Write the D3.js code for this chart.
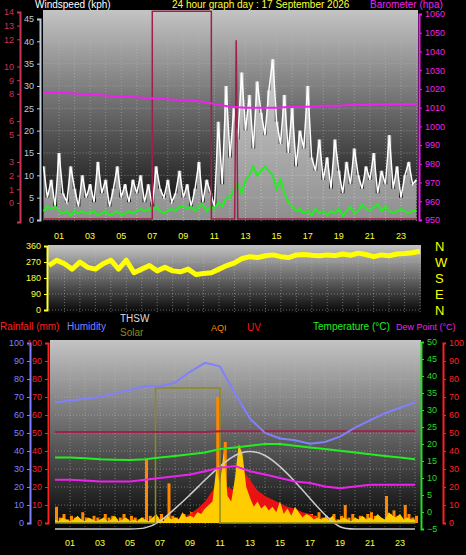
<!DOCTYPE html>
<html><head><meta charset="utf-8">
<script src="https://cdn.jsdelivr.net/npm/d3@7"></script>
<style>body{margin:0;background:#000}svg{display:block;font-family:"Liberation Sans",Arial,sans-serif}</style>
</head><body><svg width="466" height="555"></svg>
<script>
// ---- data ----
const hourTicks = [1,3,5,7,9,11,13,15,17,19,21,23];
const gust = [12,5,9,3,15,6,4,12,7,3,10,5, 8,4,13,6,9,3,7,12,5,8,4,9, 6,10,4,8,3,12,7,5,9,4,6,11,
  5,8,3,7,13,4,9,6,3,22,8,30, 14,25,18,33,20,28,16,31,24,19,29,36, 22,17,28,15,25,12,20,16,30,14,11,18,
  9,14,7,18,11,6,13,8,16,10,7,12, 9,15,6,11,8,19,7,12,5,10,13,8, 9];
const avgWind = [2,3,2.5,3,2,1.5,2,1,2,1.5,2,1.5, 1.5,2,1,1.5,2,1,1.5,2,1,1.5,2,1.5, 2,2.5,2,2.5,2,3,2,1.5,2,2.5,2,3,
  3,2.5,3,2,3,3.5,2,3,2.5,4,3,5, 5,7,8,6,9,10,12,10,11,12,11,10, 7,9,6,4,3,2,2.5,1.5,2,1,2.5,1.5,
  2,1,2,1.5,2.5,1,2,3,1.5,2,3.5,2.5, 2,3,3.5,2,3,2,1.5,2,2.5,2,1.5,2, 2];
const baro = [1018,1018,1017.5,1017,1016.5,1016,1015.5,1015,1014.5,1014,1013.5,1012,1010.5,1010,1010,1010,1010.5,1010.5,1011,1011,1011.5,1011.5,1012,1012,1012];
const rateHours = [0,7,7,10.8,10.8,12.3,12.4,12.5,24];
const rateVals  = [0,0,46.5,46.5,0,0,40,0,0];
const windDir = [250,280,260,230,270,240,230,260,280,230,280,210,230,250,220,240,220,215,230,200,205,210,230,250,
  265,290,300,295,305,310,300,295,310,312,308,305,310,306,315,308,320,312,300,310,305,315,318,322,330];
const humidity = [67,68,69,70,72,74,76,76,78,84,89,87,72,58,50,47,46,44,45,48,53,57,61,64,67];
const temperature = [16,16,15.8,15.5,15.4,15.3,15.5,16,16.5,17,17.5,18.5,19,19.5,20,20,19.5,19,18.5,18,17.5,17,16.5,16,15.5];
const dewPoint = [9.5,9.5,9.3,9,9,9,9.5,10,10.5,11,12,13,13.5,12,11,10,9,8.5,7.5,7,7.5,8,8,8,8];
const thsw = [-5,-5,-5,-5,-5,-5,-5,-3,1,5,9.5,13.5,17,18.2,17,13.5,9,4,-1,-5,-5,-5,-5,-5,-5];
const rainLine = [50.5,50.5,50.5,50.5,50.5,50.5,50.5,50.5,50.5,50.5,50.5,51,51,51,51,51,51,51,51,51,51,51,51,51,51];
const solarHours = [0,6.7,6.7,11,11,24];
const solarVals = [0,0,75,75,0,0];
const uv = [0,0,0,0,0,0,0,0,0,0,0,0,0,0,0,0.1,0.2,0.3,0.5,0.8,1.2,1.8,2.6,2.0,1.8,3.0,2.4,1.8,1.5,1.3,1.1,0.9,0.8,0.6,0.5,0.3,0.1,0,0,0,0,0,0,0,0,0,0,0,0];
const pm = [2,1,3,2,1,2,4,2,1,3,2,1, 2,3,1,2,4,1,2,3,1,2,1,3, 2,1,3,5,2,1,4,2,3,2,6,3,
  4,3,6,5,8,10,12,30,22,40,15,12, 25,44,38,20,14,9,12,8,10,7,9,6, 12,5,8,4,9,6,3,5,4,2,3,2,
  3,2,4,1,2,3,2,1,3,2,4,2, 3,2,5,3,2,6,4,3,5,2,3,2, 2];
const aqi = [9,3,5,2,4,3,2,6,3,2,4,3, 2,5,3,4,2,3,5,2,4,3,2,3, 35,4,3,2,5,3,22,4,3,2,5,3,
  6,5,3,8,4,6,12,70,10,45,8,6, 8,10,6,7,5,9,6,7,5,6,4,5, 6,8,5,4,6,5,4,3,5,4,6,3,
  4,3,5,2,4,10,3,5,2,4,3,5, 6,4,3,2,15,5,7,4,3,10,5,3, 4];

const svg = d3.select('svg');
const quarter = arr => arr.map((v, i) => [i / 4, v]);
const halfh = arr => arr.map((v, i) => [i / 2, v]);
const hourly = arr => arr.map((v, i) => [i, v]);

function panelBg(id, x0, y0, w, h) {
  const g = svg.append('defs').append('linearGradient').attr('id', id).attr('x1', 0).attr('x2', 0).attr('y1', 0).attr('y2', 1);
  g.append('stop').attr('offset', '0%').attr('stop-color', '#c4c4c4');
  g.append('stop').attr('offset', '55%').attr('stop-color', '#5a5a5a');
  g.append('stop').attr('offset', '100%').attr('stop-color', '#050505');
  svg.append('rect').attr('x', x0).attr('y', y0).attr('width', w).attr('height', h).attr('fill', `url(#${id})`);
}
function grid(x, y, yTicks, y0, y1) {
  svg.append('g').selectAll('line').data(hourTicks.concat(hourTicks.map(h => h + 1))).join('line')
    .attr('x1', d => x(d)).attr('x2', d => x(d)).attr('y1', y0).attr('y2', y1)
    .attr('stroke', '#bbb').attr('stroke-dasharray', '1,2').attr('opacity', 0.5);
  svg.append('g').selectAll('line').data(yTicks).join('line')
    .attr('x1', x.range()[0]).attr('x2', x.range()[1]).attr('y1', d => y(d)).attr('y2', d => y(d))
    .attr('stroke', '#bbb').attr('stroke-dasharray', '1,2').attr('opacity', 0.5);
}
function axisG(scale, side, xpos, color, ticks, fmt) {
  const ax = (side === 'left' ? d3.axisLeft(scale) : d3.axisRight(scale)).tickValues(ticks).tickSize(3).tickFormat(fmt || d3.format('d'));
  const g = svg.append('g').attr('transform', `translate(${xpos},0)`).call(ax);
  g.selectAll('text').attr('fill', color).style('font-size', '9px');
  g.selectAll('line').attr('stroke', color);
  g.select('.domain').attr('stroke', color).attr('stroke-width', 2);
  return g;
}
function hourAxis(x, ypos) {
  svg.append('g').selectAll('text').data(hourTicks).join('text')
    .attr('x', d => x(d)).attr('y', ypos).attr('text-anchor', 'middle')
    .attr('fill', '#ffff33').style('font-size', '9px').text(d => d3.format('02d')(d));
}
function txt(x, y, s, c, size) {
  svg.append('text').attr('x', x).attr('y', y).attr('fill', c).style('font-size', (size || 10) + 'px').text(s);
}

// ---- top panel: wind and barometer ----
const xT = d3.scaleLinear().domain([0, 24]).range([43.5, 416.5]);
const yW = d3.scaleLinear().domain([0, 45]).range([220, 19]);
const yB = d3.scaleLinear().domain([950, 1060]).range([220, 14]);
panelBg('bgTop', 43, 10, 375, 213);
grid(xT, yW, d3.range(0, 50, 5), 10, 223);
svg.append('path').datum(quarter(gust)).attr('fill', 'rgba(255,255,255,0.55)')
  .attr('d', d3.area().x(d => xT(d[0])).y0(yW(0)).y1(d => yW(d[1])).curve(d3.curveStep));
svg.append('path').datum(quarter(gust)).attr('fill', 'none').attr('stroke', '#fff').attr('stroke-width', 1.5)
  .attr('d', d3.line().x(d => xT(d[0])).y(d => yW(d[1])));
svg.append('path').datum(quarter(avgWind)).attr('fill', 'none').attr('stroke', '#22ee22').attr('stroke-width', 2)
  .attr('d', d3.line().x(d => xT(d[0])).y(d => yW(d[1])));
svg.append('path').datum(rateHours.map((h, i) => [h, rateVals[i]])).attr('fill', 'none').attr('stroke', '#a0204a').attr('stroke-width', 1.5)
  .attr('d', d3.line().x(d => xT(d[0])).y(d => yW(d[1]) - 1));
svg.append('path').datum(hourly(baro)).attr('fill', 'none').attr('stroke', '#ee22ee').attr('stroke-width', 2)
  .attr('d', d3.line().x(d => xT(d[0])).y(d => yB(d[1])));
axisG(yW, 'left', 40, '#bcd', d3.range(0, 50, 5));
axisG(d3.scaleLinear().domain([-5, 50]).range([222, 12]), 'left', 20, '#cc3355', [0, 1, 2, 3, 5, 6, 8, 9, 10, 12, 13, 14].map(v => v * 50 / 14), v => Math.round(v * 14 / 50));
axisG(yB, 'right', 419, '#ee22ee', d3.range(950, 1061, 10));
hourAxis(xT, 239);
txt(35, 8, 'Windspeed (kph)', '#fff');
txt(172, 8, '24 hour graph day : 17 September 2026', '#ffff33');
txt(370, 8, 'Barometer (hpa)', '#ee22ee');

// ---- middle panel: wind direction ----
const xM = d3.scaleLinear().domain([0, 24]).range([49, 420]);
const yD = d3.scaleLinear().domain([0, 360]).range([310, 246]);
panelBg('bgMid', 48, 245, 373, 68);
grid(xM, yD, [0, 90, 180, 270, 360], 245, 313);
svg.append('path').datum(halfh(windDir)).attr('fill', 'none').attr('stroke', '#ffff00').attr('stroke-width', 5)
  .attr('stroke-linejoin', 'round').attr('d', d3.line().x(d => xM(d[0])).y(d => yD(d[1])));
axisG(yD, 'left', 47, '#ffff33', [0, 90, 180, 270, 360]);
['N', 'W', 'S', 'E', 'N'].forEach((s, i) => txt(435, yD(360 - i * 90) + 5, s, '#ffff00', 13));

// ---- bottom panel ----
const xB = d3.scaleLinear().domain([0, 24]).range([55, 415]);
const yH = d3.scaleLinear().domain([0, 100]).range([523, 343]);
const yTmp = d3.scaleLinear().domain([-5, 50]).range([529, 342]);
const yUV = d3.scaleLinear().domain([0, 10]).range([523, 343]);
panelBg('bgBot', 50, 340, 371, 188);
grid(xB, yH, d3.range(0, 101, 10), 340, 528);
const line = (yS) => d3.line().x(d => xB(d[0])).y(d => yS(d[1]));
svg.append('g').selectAll('rect').data(quarter(aqi)).join('rect')
  .attr('x', d => xB(d[0])).attr('width', 3).attr('y', d => yH(d[1])).attr('height', d => yH(0) - yH(d[1])).attr('fill', '#ff8800');
svg.append('path').datum(halfh(uv)).attr('fill', '#ff1010').attr('opacity', 0.9)
  .attr('d', d3.area().x(d => xB(d[0])).y0(yUV(0)).y1(d => yUV(d[1])));
svg.append('path').datum(quarter(pm)).attr('fill', '#ffcc00')
  .attr('d', d3.area().x(d => xB(d[0])).y0(yH(0)).y1(d => yH(d[1])));
svg.append('path').datum(hourly(thsw)).attr('fill', 'none').attr('stroke', '#cccccc').attr('stroke-width', 1.5)
  .attr('d', line(yTmp).curve(d3.curveBasis));
svg.append('path').datum(solarHours.map((h, i) => [h, solarVals[i]])).attr('fill', 'none').attr('stroke', '#8a8a20').attr('stroke-width', 1.5).attr('d', line(yH));
svg.append('path').datum(hourly(rainLine)).attr('fill', 'none').attr('stroke', '#a0204a').attr('stroke-width', 2).attr('d', line(yH));
svg.append('path').datum(hourly(humidity)).attr('fill', 'none').attr('stroke', '#8080ff').attr('stroke-width', 2).attr('d', line(yH));
svg.append('path').datum(hourly(temperature)).attr('fill', 'none').attr('stroke', '#22ee22').attr('stroke-width', 2).attr('d', line(yTmp));
svg.append('path').datum(hourly(dewPoint)).attr('fill', 'none').attr('stroke', '#ee22ee').attr('stroke-width', 2).attr('d', line(yTmp));
axisG(yH, 'left', 30, '#8080ff', d3.range(0, 101, 10));
axisG(yH, 'left', 48, '#ff2020', d3.range(0, 101, 10));
axisG(yTmp, 'right', 421, '#22dd22', d3.range(-5, 51, 5));
axisG(yH, 'right', 443, '#ff2020', d3.range(0, 101, 10));
hourAxis(xB, 546);
txt(0, 330, 'Rainfall (mm)', '#ff2020');
txt(67, 330, 'Humidity', '#8080ff');
txt(120, 322, 'THSW', '#dddddd');
txt(120, 336, 'Solar', '#8a8a20');
txt(211, 331, 'AQI', '#ff8800', 9);
txt(247, 331, 'UV', '#ff1010');
txt(313, 330, 'Temperature (°C)', '#22ee22');
txt(396, 330, 'Dew Point (°C)', '#ee22ee', 9);
</script></body></html>
